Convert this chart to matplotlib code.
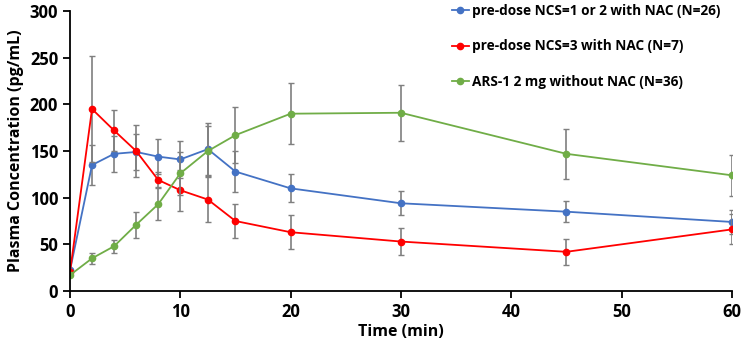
import numpy as np
import matplotlib.pyplot as plt

# sampling times (min)
time = [0, 2, 4, 6, 8, 10, 12.5, 15, 20, 30, 45, 60]

# mean plasma concentration (pg/mL) and error bars
ncs12 = [22, 135, 147, 149, 144, 141, 152, 128, 110, 94, 85, 74]
ncs12_err = [0, 21, 19, 19, 19, 20, 28, 22, 15, 13, 11, 13]

ncs3 = [20, 195, 172, 150, 119, 108, 98, 75, 63, 53, 42, 66]
ncs3_err = [0, 57, 22, 28, 8, 22, 24, 18, 18, 14, 14, 16]

ars1 = [17, 35, 48, 71, 93, 126, 150, 167, 190, 191, 147, 124]
ars1_err = [0, 6, 7, 14, 17, 23, 27, 30, 33, 30, 27, 22]

labels = ["pre-dose NCS=1 or 2 with NAC (N=26)",
          "pre-dose NCS=3 with NAC (N=7)",
          "ARS-1 2 mg without NAC (N=36)"]
colors = ["#4472C4", "#FF0000", "#70AD47"]

plt.rcParams['font.family'] = ['Open Sans', 'DejaVu Sans']

fig = plt.figure(figsize=(7.42, 3.45), dpi=100)
ax = fig.add_axes([0.0943, 0.1565, 0.892, 0.8115])

for y, err, c, lab in zip([ncs12, ncs3, ars1], [ncs12_err, ncs3_err, ars1_err], colors, labels):
    # grey error bars, then the coloured line on top (line only goes into the legend)
    ax.errorbar(time, y, yerr=err, fmt='none', ecolor='#7f7f7f',
                elinewidth=1.2, capsize=2.5, capthick=1.0)
    ax.plot(time, y, color=c, marker='o', markersize=4.5, lw=1.3, label=lab)

ax.set_xlim(0, 60)
ax.set_ylim(0, 300)
ax.set_xticks(range(0, 61, 10))
ax.set_yticks(range(0, 301, 50))
ax.spines['top'].set_visible(False)
ax.spines['right'].set_visible(False)
for s in ['left', 'bottom']:
    ax.spines[s].set_linewidth(1.3)
ax.tick_params(axis='both', labelsize=12, width=1.3, length=5, direction='out')
for t in ax.get_xticklabels() + ax.get_yticklabels():
    t.set_fontweight('bold')

ax.set_xlabel("Time (min)", fontsize=11.5, fontweight='bold', labelpad=2)
ax.set_ylabel("Plasma Concentration (pg/mL)", fontsize=11.5, fontweight='bold', labelpad=4)

leg = ax.legend(loc='upper left', bbox_to_anchor=(0.558, 1.07), frameon=False,
                handlelength=1.3, handletextpad=0.2, labelspacing=1.6,
                prop={'size': 9.8, 'weight': 'bold'})

fig.savefig("out.png", dpi=100)
